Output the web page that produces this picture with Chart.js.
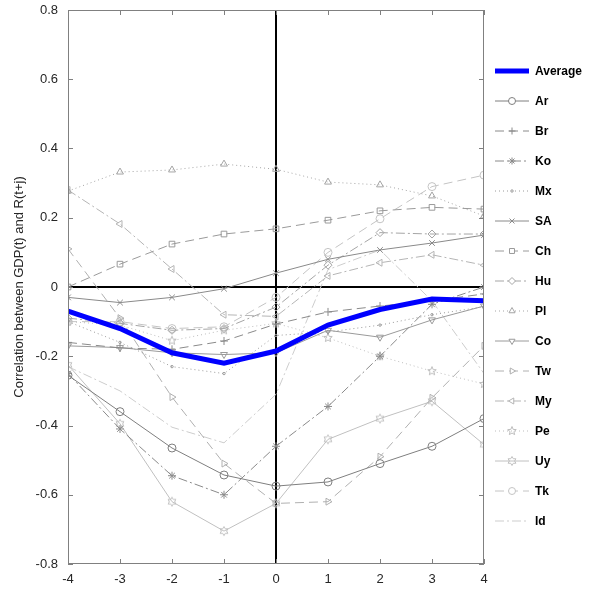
<!DOCTYPE html>
<html>
<head>
<meta charset="utf-8">
<script src="https://cdn.jsdelivr.net/npm/chart.js@4/dist/chart.umd.min.js"></script>
<style>
  html, body { margin: 0; padding: 0; background: #fff; }
</style>
</head>
<body>
<canvas id="corrChart" width="590" height="599"></canvas>
<script>
// lags j
const lags = [-4, -3, -2, -1, 0, 1, 2, 3, 4];

// correlation values
const average = [-0.07, -0.12, -0.19, -0.22, -0.185, -0.11, -0.065, -0.035, -0.04];
const ar = [-0.255, -0.36, -0.465, -0.543, -0.575, -0.563, -0.51, -0.46, -0.38];
const br = [-0.16, -0.176, -0.18, -0.156, -0.107, -0.072, -0.055, -0.04, -0.02];
const ko = [-0.25, -0.41, -0.545, -0.60, -0.46, -0.345, -0.20, -0.05, 0.0];
const mx = [-0.10, -0.16, -0.23, -0.25, -0.14, -0.13, -0.11, -0.08, -0.057];
const sa = [-0.03, -0.045, -0.03, -0.005, 0.04, 0.08, 0.107, 0.127, 0.15];
const ch = [0.0, 0.066, 0.124, 0.153, 0.168, 0.193, 0.22, 0.23, 0.225];
const hu = [-0.09, -0.105, -0.125, -0.12, -0.058, 0.063, 0.157, 0.153, 0.153];
const pl = [0.277, 0.332, 0.338, 0.355, 0.34, 0.303, 0.295, 0.263, 0.205];
const co = [-0.17, -0.175, -0.19, -0.195, -0.19, -0.125, -0.145, -0.095, -0.055];
const tw = [0.11, -0.09, -0.318, -0.51, -0.625, -0.62, -0.49, -0.32, -0.17];
const my = [0.28, 0.182, 0.052, -0.08, -0.085, 0.032, 0.07, 0.093, 0.063];
const pe = [-0.10, -0.11, -0.155, -0.125, -0.105, -0.147, -0.2, -0.243, -0.28];
const uy = [-0.225, -0.395, -0.62, -0.705, -0.625, -0.44, -0.38, -0.33, -0.455];
const tk = [-0.10, -0.10, -0.12, -0.115, -0.03, 0.10, 0.197, 0.29, 0.323];
const id = [-0.23, -0.30, -0.405, -0.45, -0.31, 0.05, 0.107, -0.04, -0.25];

const yTicks = [-0.8, -0.6, -0.4, -0.2, 0, 0.2, 0.4, 0.6, 0.8];

const DASH = [9, 5], DOT = [1, 3], DASHDOT = [9, 3, 2, 3];

// small outlined star glyphs for the markers chart.js does not have
function starGlyph(points, color, outer, inner) {
  const size = Math.ceil(outer * 2 + 3);
  const cv = document.createElement('canvas');
  cv.width = size; cv.height = size;
  const g = cv.getContext('2d');
  g.strokeStyle = color;
  g.lineWidth = 1;
  g.beginPath();
  for (let i = 0; i < points * 2; i++) {
    const r = i % 2 === 0 ? outer : inner;
    const a = -Math.PI / 2 + i * Math.PI / points;
    const px = size / 2 + r * Math.cos(a), py = size / 2 + r * Math.sin(a);
    if (i === 0) g.moveTo(px, py); else g.lineTo(px, py);
  }
  g.closePath();
  g.stroke();
  return cv;
}

function series(label, data, color, dash, style, rot) {
  return {
    label: label,
    data: data,
    borderColor: color,
    borderWidth: 1,
    borderDash: dash,
    pointStyle: style || false,
    pointRotation: rot || 0,
    pointRadius: style ? 4 : 0,
    pointBorderColor: color,
    pointBackgroundColor: 'rgba(0,0,0,0)',
    pointBorderWidth: 1,
    tension: 0,
    fill: false
  };
}

const datasets = [
  {
    label: 'Average', data: average, borderColor: '#0000ff', borderWidth: 5,
    pointRadius: 0, pointStyle: false, fill: false, tension: 0
  },
  series('Ar', ar, '#7f7f7f', [], 'circle'),
  series('Br', br, '#8a8a8a', DASH, 'cross'),
  series('Ko', ko, '#8a8a8a', DASHDOT, 'star'),
  series('Mx', mx, '#9a9a9a', DOT, 'circle'),
  series('SA', sa, '#8a8a8a', [], 'crossRot'),
  series('Ch', ch, '#9a9a9a', DASH, 'rect'),
  series('Hu', hu, '#a5a5a5', DASHDOT, 'rectRot'),
  series('Pl', pl, '#a5a5a5', DOT, 'triangle'),
  series('Co', co, '#9a9a9a', [], 'triangle', 180),
  series('Tw', tw, '#b0b0b0', DASH, 'triangle', 90),
  series('My', my, '#b5b5b5', DASHDOT, 'triangle', -90),
  series('Pe', pe, '#bdbdbd', DOT, starGlyph(5, '#bdbdbd', 4.5, 2)),
  series('Uy', uy, '#c0c0c0', [], starGlyph(6, '#c0c0c0', 4.5, 2.6)),
  series('Tk', tk, '#c4c4c4', DASH, 'circle'),
  series('Id', id, '#cdcdcd', DASHDOT, null)
];
// Mx uses small dots
datasets[4].pointRadius = 1.2;

const frame = {
  id: 'frame',
  beforeDatasetsDraw(chart) {
    const { ctx, chartArea: a, scales: { x, y } } = chart;
    ctx.save();
    ctx.strokeStyle = '#000';
    ctx.lineWidth = 2;
    ctx.beginPath();
    const y0 = Math.round(y.getPixelForValue(0));
    const x0 = Math.round(x.getPixelForValue(0));
    ctx.moveTo(a.left, y0); ctx.lineTo(a.right, y0);
    ctx.moveTo(x0, a.top); ctx.lineTo(x0, a.bottom);
    ctx.stroke();
    ctx.restore();
  },
  afterDatasetsDraw(chart) {
    const { ctx, chartArea: a, scales: { x, y } } = chart;
    ctx.save();
    ctx.strokeStyle = '#808080';
    ctx.lineWidth = 1;
    ctx.strokeRect(a.left + 0.5, a.top + 0.5, a.right - a.left - 1, a.bottom - a.top - 1);
    ctx.beginPath();
    lags.forEach(v => {
      const px = Math.round(x.getPixelForValue(v)) + 0.5;
      ctx.moveTo(px, a.bottom); ctx.lineTo(px, a.bottom - 5);
      ctx.moveTo(px, a.top); ctx.lineTo(px, a.top + 5);
    });
    yTicks.forEach(v => {
      const py = Math.round(y.getPixelForValue(v)) + 0.5;
      ctx.moveTo(a.left, py); ctx.lineTo(a.left + 5, py);
      ctx.moveTo(a.right, py); ctx.lineTo(a.right - 5, py);
    });
    ctx.stroke();
    ctx.restore();
  },
  afterDraw(chart) {
    // legend outside the axes, on the right
    const ctx = chart.ctx;
    ctx.save();
    chart.data.datasets.forEach((ds, i) => {
      const yy = 71 + i * 30;
      const x1 = 495, x2 = 529;
      ctx.strokeStyle = ds.borderColor;
      ctx.lineWidth = ds.borderWidth;
      ctx.setLineDash(ds.borderDash || []);
      ctx.beginPath();
      ctx.moveTo(x1, yy); ctx.lineTo(x2, yy);
      ctx.stroke();
      ctx.setLineDash([]);
      if (ds.pointStyle) {
        ctx.lineWidth = 1;
        ctx.strokeStyle = ds.borderColor;
        ctx.fillStyle = '#fff';
        Chart.helpers.drawPoint(ctx, {
          pointStyle: ds.pointStyle,
          rotation: ds.pointRotation || 0,
          radius: ds.pointRadius === 1.2 ? 1.2 : 3.5,
          borderWidth: 1
        }, (x1 + x2) / 2, yy);
      }
      ctx.fillStyle = '#000';
      ctx.font = 'bold 12px "Liberation Sans", Arial, sans-serif';
      ctx.textBaseline = 'middle';
      ctx.textAlign = 'left';
      ctx.fillText(ds.label, 535, yy + 1);
    });
    ctx.restore();
  }
};

new Chart(document.getElementById('corrChart').getContext('2d'), {
  type: 'line',
  data: { labels: lags, datasets: datasets },
  options: {
    responsive: false,
    animation: false,
    layout: { padding: { left: 0, top: 10, right: 106, bottom: 0 } },
    plugins: { legend: { display: false }, tooltip: { enabled: false } },
    scales: {
      x: {
        type: 'linear',
        min: -4, max: 4,
        grid: { display: false, drawTicks: false },
        border: { display: false },
        afterBuildTicks: s => { s.ticks = lags.map(v => ({ value: v })); },
        afterFit: s => { s.height = 35; s.paddingLeft = 0; s.paddingRight = 0; },
        ticks: {
          padding: 8,
          color: '#262626',
          font: { family: '"Liberation Sans", Arial, sans-serif', size: 13 },
          callback: v => String(v)
        }
      },
      y: {
        min: -0.8, max: 0.8,
        grid: { display: false, drawTicks: false },
        border: { display: false },
        afterBuildTicks: s => { s.ticks = yTicks.map(v => ({ value: v })); },
        afterFit: s => { s.width = 68; s.paddingTop = 0; s.paddingBottom = 0; },
        ticks: {
          padding: 10,
          color: '#262626',
          font: { family: '"Liberation Sans", Arial, sans-serif', size: 13 },
          callback: v => String(Math.round(v * 10) / 10)
        },
        title: {
          display: true,
          text: 'Correlation between GDP(t) and R(t+j)',
          color: '#262626',
          font: { family: '"Liberation Sans", Arial, sans-serif', size: 13 },
          padding: { top: 12, bottom: 0 }
        }
      }
    }
  },
  plugins: [frame]
});
</script>
</body>
</html>
